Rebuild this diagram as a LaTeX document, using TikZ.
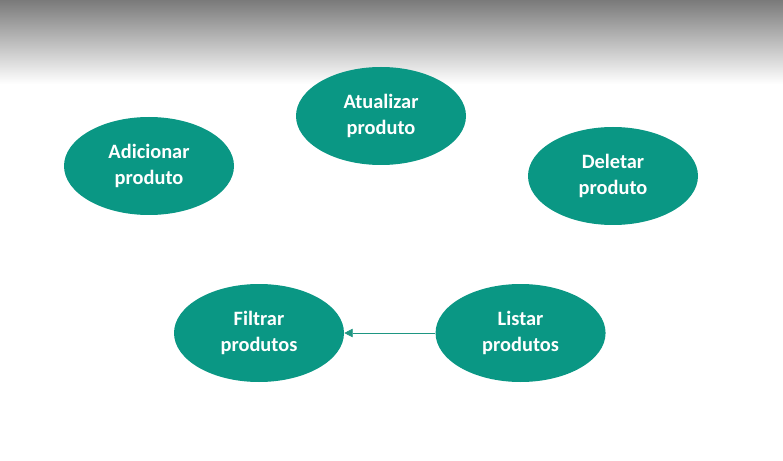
\documentclass[tikz,border=0pt]{standalone}
\usepackage{fontspec}
\setmainfont{Carlito}
\usetikzlibrary{shapes.geometric,arrows.meta,positioning}
\definecolor{nodefill}{RGB}{10,151,132}
\definecolor{arrowclr}{RGB}{30,150,130}
\definecolor{topshade}{RGB}{122,122,122}
\tikzset{
  oper/.style={ellipse,fill=nodefill,draw=none,
    minimum width=4.25cm,minimum height=2.45cm,
    font=\fontsize{14.5}{18.5}\selectfont\bfseries,align=center,text=white,inner sep=2pt},
  arr/.style={-{Triangle[length=6pt,width=6pt]},thin,color=arrowclr},
}

\begin{document}
\begin{tikzpicture}

  \useasboundingbox (0,0) rectangle (19.575,-11.525);
  \shade[top color=topshade,bottom color=white] (0,0) rectangle (19.575,-2.1);

  \node[oper] (atual) at (9.525,-2.9)  {Atualizar\\produto};
  \node[oper] (adic)  at (3.725,-4.15) {Adicionar\\produto};
  \node[oper] (delet) at (15.325,-4.4) {Deletar\\produto};
  \node[oper] (filtr) at (6.475,-8.325) {Filtrar\\produtos};
  \node[oper,right=2.275cm of filtr] (listr) {Listar\\produtos};

  \draw[arr] (listr) -- (filtr);

\end{tikzpicture}
\end{document}
